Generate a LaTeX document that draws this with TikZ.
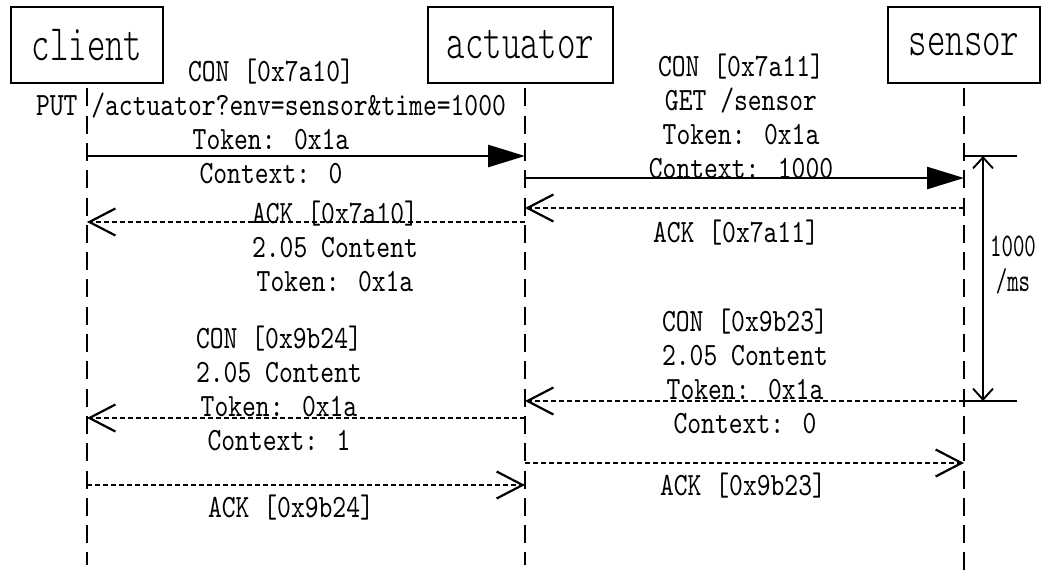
\documentclass[tikz,border=0pt]{standalone}
\usepackage{fontspec}
\usetikzlibrary{arrows.meta}
\newfontfamily\lblfont[FakeStretch=0.81]{lmmono10-regular.otf}
\newfontfamily\boxfont[FakeStretch=0.69]{lmmonolt10-regular.otf}
\newfontfamily\tmfont[FakeStretch=0.66]{lmmono10-regular.otf}
\tikzset{
  actor/.style={draw, line width=2.8pt, inner sep=0pt, minimum height=76pt,
    font=\boxfont\fontsize{51}{56}\selectfont},
  lifeline/.style={line width=2.6pt, dash pattern=on 18pt off 9.3pt, dash phase=22pt},
  solidmsg/.style={line width=2.6pt, -{Triangle[length=37pt,width=22pt]}},
  dotmsg/.style={line width=2.2pt, dash pattern=on 5pt off 3pt,
    -{Straight Barb[length=26pt,width=27pt,line width=2.2pt]}},
  lbl/.style={font=\lblfont\fontsize{32.5}{34}\selectfont, align=center, inner sep=0pt},
  tmlbl/.style={font=\tmfont\fontsize{33}{35}\selectfont, align=center, inner sep=0pt},
  timer/.style={line width=1.9pt,
    {Straight Barb[length=11pt,width=20pt]}-{Straight Barb[length=11pt,width=20pt]}},
  tick/.style={line width=1.9pt},
}
\begin{document}
\begin{tikzpicture}[x=1pt,y=-1pt]
\useasboundingbox (0,0) rectangle (1044,573);
% actors
\node[actor, minimum width=152pt] (client) at (87,45) {client};
\node[actor, minimum width=185pt] (actuator) at (520.5,45) {actuator};
\node[actor, minimum width=152pt] (sensor) at (964,45) {sensor};
% lifelines
\coordinate (cT) at (87,83);   \coordinate (cB) at (87,565);
\coordinate (aT) at (525,83);  \coordinate (aB) at (525,565);
\coordinate (sT) at (964,83);  \coordinate (sB) at (964,573);
\draw[lifeline] (cT) -- (cB);
\draw[lifeline] (aT) -- (aB);
\draw[lifeline] (sT) -- (sB);
% message end points
\coordinate (c1) at (87,156);  \coordinate (a1) at (525,156);
\coordinate (a2) at (525,178); \coordinate (s2) at (964,178);
\coordinate (a3) at (525,222); \coordinate (c3) at (87,222);
\coordinate (s4) at (964,208); \coordinate (a4) at (525,208);
\coordinate (s5) at (964,401); \coordinate (a5) at (525,401);
\coordinate (a6) at (525,418); \coordinate (c6) at (87,418);
\coordinate (c7) at (87,485);  \coordinate (a7) at (525,485);
\coordinate (a8) at (525,463); \coordinate (s8) at (964,463);
% messages
\draw[solidmsg] (c1) -- (a1);
\draw[solidmsg] (a2) -- (s2);
\draw[dotmsg] (a3) -- (c3);
\draw[dotmsg] (s4) -- (a4);
\draw[dotmsg] (s5) -- (a5);
\draw[dotmsg] (a6) -- (c6);
\draw[dotmsg] (c7) -- (a7);
\draw[dotmsg] (a8) -- (s8);
% labels
\node[lbl] (l1) at (271,121) {CON [0x7a10]\\PUT /actuator?env=sensor\&time=1000\\Token: 0x1a\\Context: 0};
\node[lbl] (l2) at (741,116) {CON [0x7a11]\\GET /sensor\\Token: 0x1a\\Context: 1000};
\node[lbl] (l3) at (335,246) {ACK [0x7a10]\\2.05 Content\\Token: 0x1a};
\node[lbl] (l4) at (736,233) {ACK [0x7a11]};
\node[lbl] (l5) at (745,371) {CON [0x9b23]\\2.05 Content\\Token: 0x1a\\Context: 0};
\node[lbl] (l6) at (279,388) {CON [0x9b24]\\2.05 Content\\Token: 0x1a\\Context: 1};
\node[lbl] (l7) at (291,508) {ACK [0x9b24]};
\node[lbl] (l8) at (743,486) {ACK [0x9b23]};
% timer
\coordinate (t1) at (983,156); \coordinate (t2) at (983,401);
\coordinate (k1a) at (964,156); \coordinate (k1b) at (1017,156);
\coordinate (k2a) at (964,401); \coordinate (k2b) at (1017,401);
\draw[tick] (k1a) -- (k1b);
\draw[tick] (k2a) -- (k2b);
\draw[timer] (t1) -- (t2);
\node[tmlbl] (tl) at (1013,265.5) {1000\\/ms};
\end{tikzpicture}
\end{document}
